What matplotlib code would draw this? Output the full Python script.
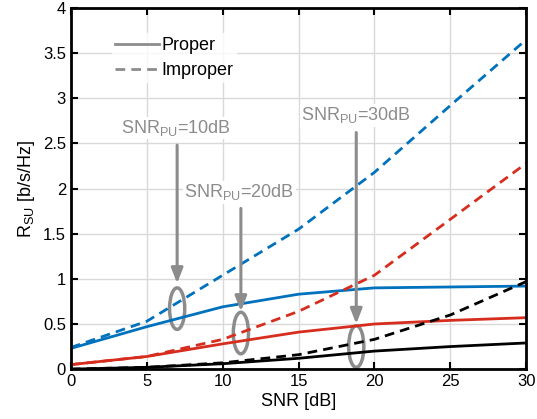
import matplotlib
matplotlib.use("Agg")
import matplotlib.pyplot as plt
from matplotlib.patches import Ellipse
from matplotlib.lines import Line2D

plt.rcParams['font.family'] = ['Liberation Sans', 'DejaVu Sans']
plt.rcParams['mathtext.fontset'] = 'custom'
plt.rcParams['mathtext.rm'] = 'Liberation Sans'

snr = [0, 5, 10, 15, 20, 25, 30]
blue_improper = [0.24, 0.53, 1.04, 1.55, 2.18, 2.92, 3.65]
blue_proper = [0.23, 0.47, 0.69, 0.83, 0.90, 0.91, 0.92]
red_improper = [0.05, 0.14, 0.33, 0.64, 1.04, 1.66, 2.28]
red_proper = [0.05, 0.14, 0.28, 0.41, 0.50, 0.54, 0.57]
black_improper = [0.0, 0.02, 0.07, 0.16, 0.33, 0.60, 0.97]
black_proper = [0.0, 0.02, 0.06, 0.12, 0.20, 0.25, 0.29]

labels = ['SNR$_{\\mathrm{PU}}$=10dB', 'SNR$_{\\mathrm{PU}}$=20dB', 'SNR$_{\\mathrm{PU}}$=30dB']
label_pos = [(6.9, 2.67), (11.1, 1.96), (18.8, 2.81)]
arrow_x = [7.0, 11.2, 18.8]
arrow_top = [2.48, 1.78, 2.62]
arrow_bot = [0.95, 0.64, 0.50]
ell_y = [0.67, 0.40, 0.25]

blue = '#0072BD'
red = '#D62D1E'
gray = '#8C8C8C'
dash = (0, (3.5, 2.2))

fig = plt.figure(figsize=(5.37, 4.19), dpi=100)
ax = fig.add_axes([0.132, 0.119, 0.848, 0.862])

ax.plot(snr, blue_proper, color=blue, lw=2)
ax.plot(snr, blue_improper, color=blue, lw=2, ls=dash)
ax.plot(snr, red_proper, color=red, lw=2)
ax.plot(snr, red_improper, color=red, lw=2, ls=dash)
ax.plot(snr, black_proper, color='black', lw=2)
ax.plot(snr, black_improper, color='black', lw=2, ls=dash)

for lab, (lx, ly), axx, at, ab, ey in zip(labels, label_pos, arrow_x, arrow_top, arrow_bot, ell_y):
    ax.text(lx, ly, lab, color=gray, fontsize=13, ha='center', va='center',
            bbox=dict(facecolor='white', edgecolor='none', pad=1))
    ax.annotate('', xy=(axx, ab), xytext=(axx, at),
                arrowprops=dict(arrowstyle='-|>,head_length=0.9,head_width=0.35',
                                color=gray, lw=2.2, shrinkA=0, shrinkB=0))
    ax.add_patch(Ellipse((axx, ey), 1.0, 0.46, fill=False, edgecolor=gray, lw=2.5))

ax.set_xlim(0, 30)
ax.set_ylim(0, 4)
ax.set_xticks([0, 5, 10, 15, 20, 25, 30])
ax.set_yticks([0, 0.5, 1, 1.5, 2, 2.5, 3, 3.5, 4])
ax.set_yticklabels(['0', '0.5', '1', '1.5', '2', '2.5', '3', '3.5', '4'])
ax.grid(True, color='#D9D9D9', lw=1)
ax.set_axisbelow(True)
ax.tick_params(direction='in', top=True, right=True, labelsize=12, length=5, width=1.5)
for s in ax.spines.values():
    s.set_linewidth(2)
ax.set_xlabel('SNR [dB]', fontsize=13, labelpad=3)
ax.set_ylabel('R$_{\\mathrm{SU}}$ [b/s/Hz]', fontsize=13, labelpad=4)

handles = [Line2D([], [], color=gray, lw=2), Line2D([], [], color=gray, lw=2, ls=dash)]
ax.legend(handles, ['Proper', 'Improper'], loc='upper left', bbox_to_anchor=(0.07, 0.955),
          frameon=True, facecolor='white', edgecolor='none', fontsize=13,
          handlelength=2.4, borderpad=0.2, labelspacing=0.45, handletextpad=0.15)

fig.savefig('out.png', dpi=100)
